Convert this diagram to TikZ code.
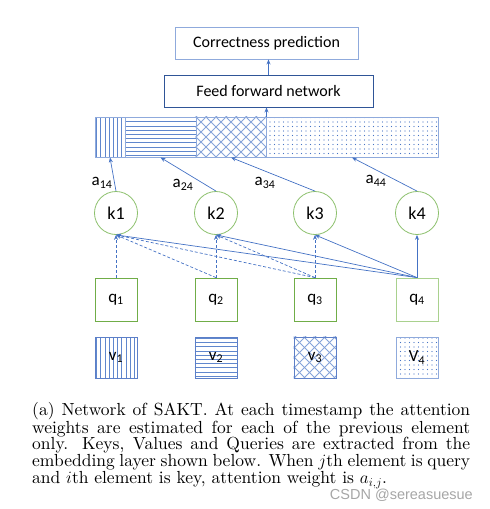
\documentclass[tikz,border=0pt]{standalone}
\usepackage{fontspec}
\newfontfamily\calfont{Carlito}
\newfontfamily\wmfont{Liberation Sans}
\newfontfamily\capfont{lmroman10-regular.otf}[ItalicFont=lmroman10-italic.otf]
\usetikzlibrary{arrows.meta,patterns.meta,backgrounds}
\definecolor{lineblue}{HTML}{4472C4}
\definecolor{darkblue}{HTML}{2F5597}
\definecolor{greyblue}{HTML}{8FAADC}
\definecolor{kgreen}{HTML}{8CC06C}
\definecolor{qgreen}{HTML}{70AD47}
\definecolor{lightgreen}{HTML}{A9D18E}
\definecolor{vedge}{HTML}{5C7FC8}
% hatching drawn behind a node
\newcommand\vlinesfill[1]{%
  \begin{scope}[on background layer]\begin{scope}
    \clip (#1.south west) rectangle (#1.north east);
    \foreach \d in {2.1,6.3,...,180} \draw[hatchline] ([xshift=\d pt]#1.south west) -- ([xshift=\d pt]#1.north west);
  \end{scope}\end{scope}}
\newcommand\hlinesfill[1]{%
  \begin{scope}[on background layer]\begin{scope}
    \clip (#1.south west) rectangle (#1.north east);
    \foreach \d in {2.1,6.3,...,45} \draw[hatchline] ([yshift=\d pt]#1.south west) -- ([yshift=\d pt]#1.south east);
  \end{scope}\end{scope}}
\newcommand\xhatchfill[1]{%
  \begin{scope}[on background layer]\begin{scope}
    \clip (#1.south west) rectangle (#1.north east);
    \foreach \d in {-80,-70,...,80} {
      \draw[hatchline, lineblue!65] ([xshift=\d pt]#1.south west) -- ++(120pt,120pt);
      \draw[hatchline, lineblue!65] ([xshift=\d pt]#1.north west) -- ++(120pt,-120pt);}
  \end{scope}\end{scope}}
\begin{document}
\begin{tikzpicture}[x=1pt,y=-1pt,
  arr/.style={-{Stealth[length=5pt,width=4pt]}, lineblue, line width=0.7pt},
  darr/.style={arr, dash pattern=on 3pt off 2pt},
  hatchline/.style={lineblue!85, line width=0.9pt},
  keynode/.style={circle, draw=kgreen, line width=0.8pt, minimum size=43pt, inner sep=0pt, font=\calfont\fontsize{18}{18}\selectfont},
  querynode/.style={rectangle, draw=qgreen, line width=0.8pt, minimum width=42pt, minimum height=43pt, inner sep=0pt, font=\calfont\fontsize{17}{17}\selectfont},
  valuenode/.style={rectangle, draw=vedge, line width=0.8pt, minimum width=42pt, minimum height=41pt, inner sep=0pt, font=\calfont\fontsize{17}{17}\selectfont},
  segnode/.style={rectangle, draw=greyblue, line width=1pt, minimum height=40pt, inner sep=0pt},
  topbox/.style={rectangle, line width=0.9pt, minimum height=32pt, inner sep=0pt, font=\calfont\fontsize{16}{16}\selectfont},
  weight/.style={font=\calfont\fontsize{17}{17}\selectfont, inner sep=0pt},
  dotfill/.style={pattern={Dots[distance=4.5pt,radius=0.55pt]}, pattern color=lineblue}]
\useasboundingbox (0,0) rectangle (490,509);
% output boxes
\node[topbox, draw=greyblue, minimum width=183pt] (cp) at (266.5,43) {Correctness prediction};
\node[topbox, draw=darkblue, minimum width=209pt] (ffn) at (268.5,91) {Feed forward network};
% attention output bar
\node[segnode, minimum width=30pt] (s1) at (110,137) {};
\node[segnode, minimum width=71pt] (s2) at (160.5,137) {};
\node[segnode, minimum width=70pt] (s3) at (231,137) {};
\node[segnode, dotfill, minimum width=172pt] (s4) at (352,137) {};
\vlinesfill{s1}
\hlinesfill{s2}
\xhatchfill{s3}
\draw[arr] (s3.north east) -- (s3.north east |- ffn.south);
\draw[arr] (ffn.north) -- (ffn.north |- cp.south);
% keys
\node[keynode] (k1) at (116,213) {k1};
\node[keynode] (k2) at (216,213) {k2};
\node[keynode] (k3) at (315,213) {k3};
\node[keynode] (k4) at (417,213) {k4};
\draw[arr] (k1.north) -- (s1.south);
\draw[arr] (k2.north) -- (s2.south);
\draw[arr] (k3.north) -- (s3.south);
\draw[arr] (k4.north) -- (s4.south);
\node[weight] (a14) at (102,183) {a\textsubscript{14}};
\node[weight] (a24) at (183,185) {a\textsubscript{24}};
\node[weight] (a34) at (265,183) {a\textsubscript{34}};
\node[weight] (a44) at (376,181) {a\textsubscript{44}};
% queries
\node[querynode] (q1) at (116,299.5) {q\textsubscript{1}};
\node[querynode] (q2) at (216,299.5) {q\textsubscript{2}};
\node[querynode] (q3) at (315,299.5) {q\textsubscript{3}};
\node[querynode, draw=lightgreen] (q4) at (417,299.5) {q\textsubscript{4}};
\draw[darr] (q1.north) -- (k1.south);
\draw[darr] (q2.north) -- (k2.south);
\draw[darr] (q2.north) -- (k1.south);
\draw[darr] (q3.north) -- (k3.south);
\draw[darr] (q3.north) -- (k2.south);
\draw[darr] (q3.north) -- (k1.south);
\draw[arr] (q4.north) -- (k4.south);
\draw[arr] (q4.north) -- (k3.south);
\draw[arr] (q4.north) -- (k2.south);
\draw[arr] (q4.north) -- (k1.south);
% values
\node[valuenode] (v1) at (116,357.5) {v\textsubscript{1}};
\node[valuenode] (v2) at (216,357.5) {v\textsubscript{2}};
\node[valuenode] (v3) at (315,357.5) {v\textsubscript{3}};
\node[valuenode, dotfill, draw=greyblue] (v4) at (417,357.5) {V\textsubscript{4}};
\vlinesfill{v1}
\hlinesfill{v2}
\xhatchfill{v3}
% caption
\node[anchor=north west, inner sep=0pt, text width=438pt, align=justify] (caption) at (32,402)
  {\capfont\fontsize{17.5pt}{16.7pt}\selectfont
   (a) Network of SAKT. At each timestamp the attention\linebreak
   weights are estimated for each of the previous element\linebreak
   only.  Keys, Values and Queries are extracted from the\linebreak
   embedding layer shown below. When $j$th element is query\linebreak
   and $i$th element is key, attention weight is $a_{i,j}$.};
\node[anchor=east, inner sep=0pt, text=black!35, font=\wmfont\fontsize{14.5}{14.5}\selectfont] (mark) at (473,495) {CSDN @sereasuesue};
\end{tikzpicture}
\end{document}
